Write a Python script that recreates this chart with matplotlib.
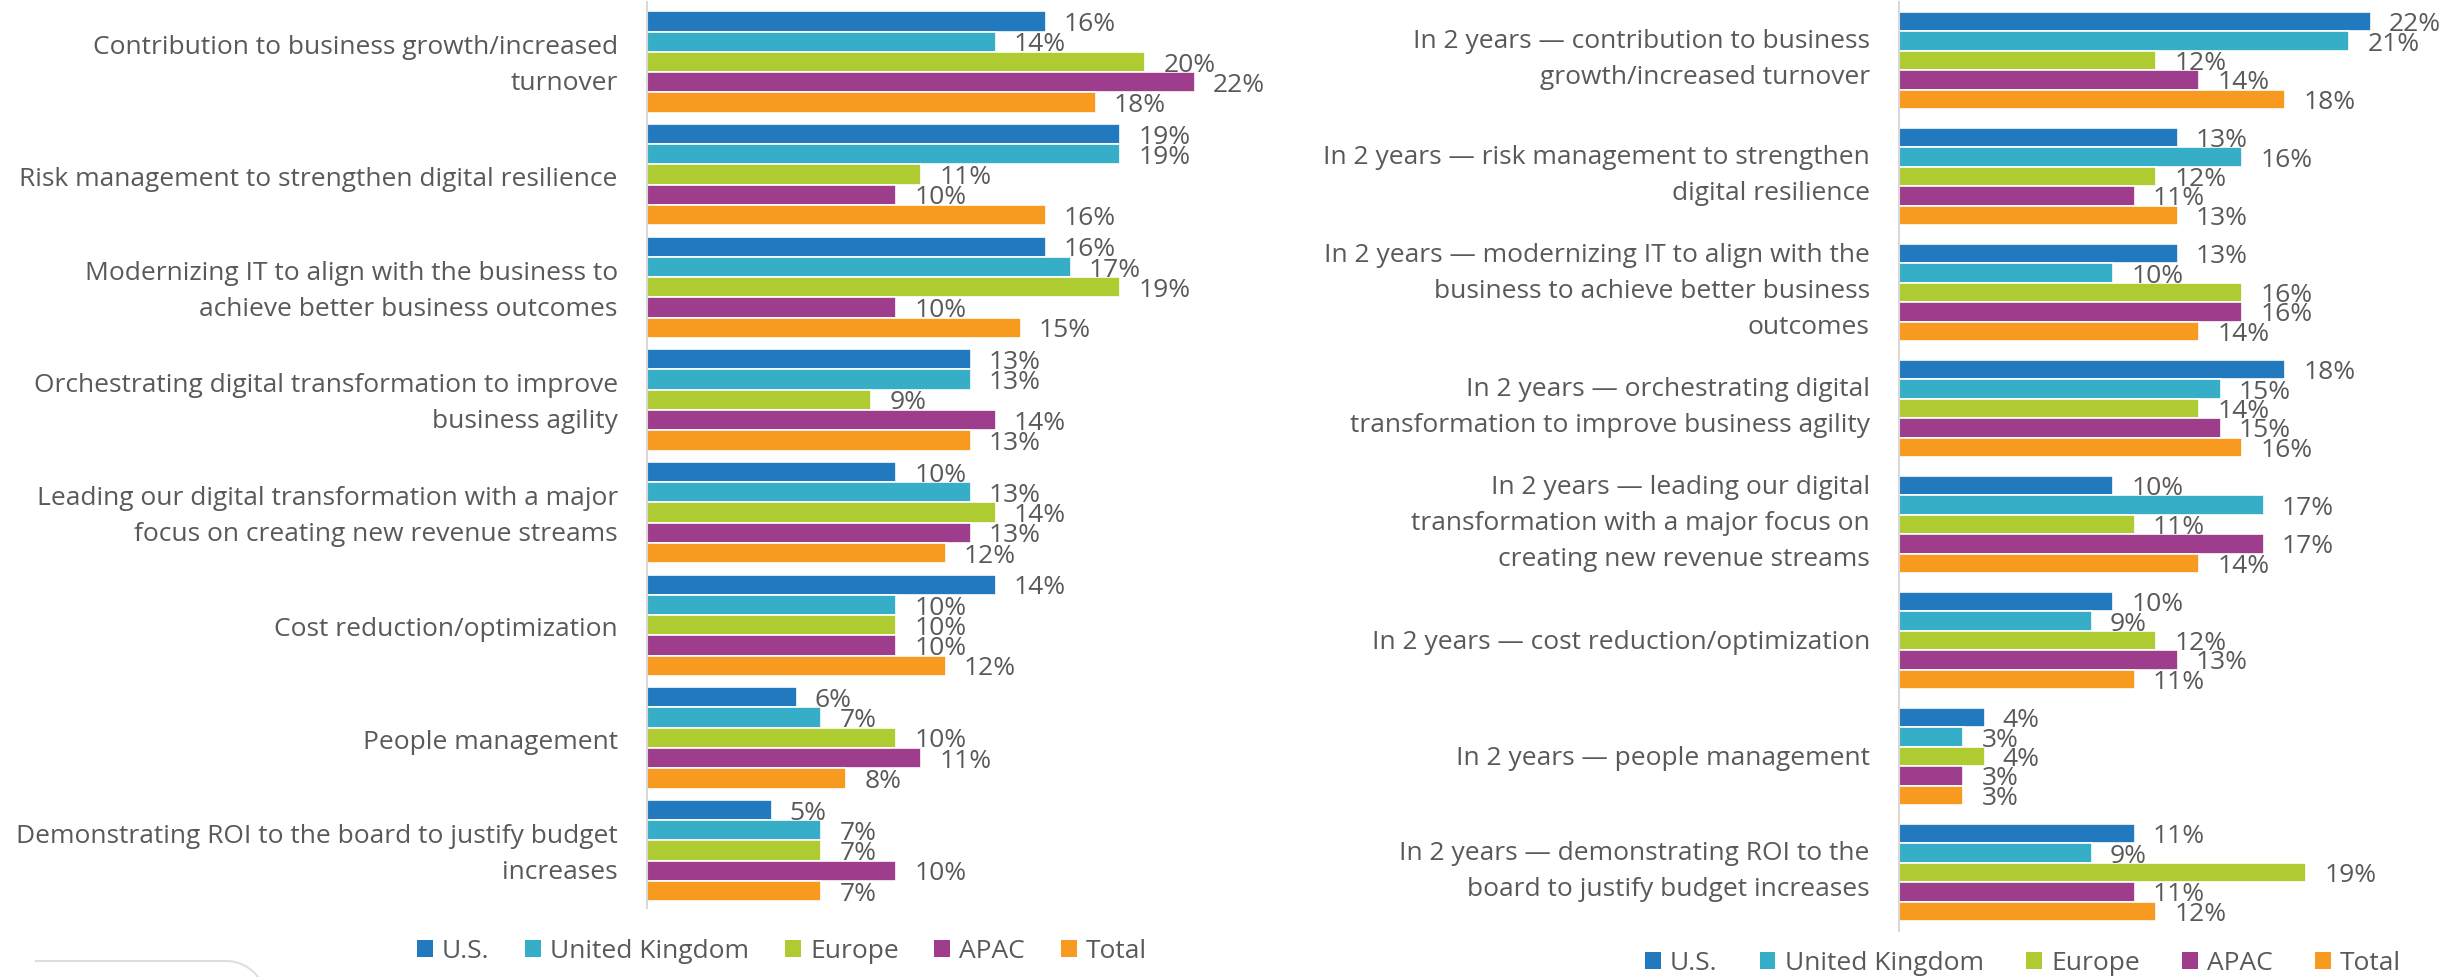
import matplotlib.pyplot as plt
import numpy as np
from matplotlib.patches import Arc
from matplotlib.lines import Line2D

plt.rcParams['font.family'] = ['Open Sans', 'DejaVu Sans']

series = ['U.S.', 'United Kingdom', 'Europe', 'APAC', 'Total']
colors = ['#2379bd', '#37aec8', '#aecb31', '#9d3d8b', '#f99a20']

now_labels = [
    'Contribution to business growth/increased\nturnover',
    'Risk management to strengthen digital resilience',
    'Modernizing IT to align with the business to\nachieve better business outcomes',
    'Orchestrating digital transformation to improve\nbusiness agility',
    'Leading our digital transformation with a major\nfocus on creating new revenue streams',
    'Cost reduction/optimization',
    'People management',
    'Demonstrating ROI to the board to justify budget\nincreases',
]
now_us = [16, 19, 16, 13, 10, 14, 6, 5]
now_uk = [14, 19, 17, 13, 13, 10, 7, 7]
now_europe = [20, 11, 19, 9, 14, 10, 10, 7]
now_apac = [22, 10, 10, 14, 13, 10, 11, 10]
now_total = [18, 16, 15, 13, 12, 12, 8, 7]

later_labels = [
    'In 2 years \u2014 contribution to business\ngrowth/increased turnover',
    'In 2 years \u2014 risk management to strengthen\ndigital resilience',
    'In 2 years \u2014 modernizing IT to align with the\nbusiness to achieve better business\noutcomes',
    'In 2 years \u2014 orchestrating digital\ntransformation to improve business agility',
    'In 2 years \u2014 leading our digital\ntransformation with a major focus on\ncreating new revenue streams',
    'In 2 years \u2014 cost reduction/optimization',
    'In 2 years \u2014 people management',
    'In 2 years \u2014 demonstrating ROI to the\nboard to justify budget increases',
]
later_us = [22, 13, 13, 18, 10, 10, 4, 11]
later_uk = [21, 16, 10, 15, 17, 9, 3, 9]
later_europe = [12, 12, 16, 14, 11, 12, 4, 19]
later_apac = [14, 11, 16, 15, 17, 13, 3, 11]
later_total = [18, 13, 14, 16, 14, 11, 3, 12]

text_color = '#595959'
fs = 19

W, H = 2455, 978
fig = plt.figure(figsize=(W / 100, H / 100), dpi=100)


def draw_panel(ax, labels, values, slot, xmax, ylim, legend_y, legend_x,
               colspace, dy_single, dy_multi):
    n = len(labels)
    idx = np.arange(n)
    for k, (vals, col) in enumerate(zip(values, colors)):
        y = idx + (k - 2) * slot
        ax.barh(y, vals, height=slot, color=col, edgecolor='white',
                linewidth=1.2, label=series[k])
        for yy, v in zip(y, vals):
            ax.annotate(f'{v}%', (v, yy), xytext=(13, -1.5),
                        textcoords='offset points', va='center', ha='left',
                        fontsize=fs, color=text_color)
    ax.set_xlim(0, xmax)
    ax.set_ylim(*ylim)

    # category labels, right aligned against the axis line
    for i, lab in zip(idx, labels):
        dy = dy_multi if '\n' in lab else dy_single
        ax.annotate(lab, (0, i), xytext=(-21, dy), textcoords='offset points',
                    ha='right', va='center', multialignment='right',
                    fontsize=fs, color=text_color, linespacing=1.58,
                    annotation_clip=False)
    ax.set_yticks([])
    ax.set_xticks([])
    for side in ['top', 'right', 'bottom']:
        ax.spines[side].set_visible(False)
    ax.spines['left'].set_color('#d9d9d9')
    ax.spines['left'].set_linewidth(1.5)
    ax.patch.set_alpha(0)
    leg = fig.legend(*ax.get_legend_handles_labels(), loc='center',
                     bbox_to_anchor=(legend_x, legend_y), ncol=5,
                     frameon=False, fontsize=fs, handlelength=0.6,
                     handleheight=0.6, handletextpad=0.35,
                     columnspacing=colspace, labelcolor=text_color)
    for h in leg.legend_handles:
        h.set_edgecolor('none')


# current priorities
ax1 = fig.add_axes([647 / W, 1 - 909 / H, 598 / W, 906 / H])
draw_panel(ax1, now_labels,
           [now_us, now_uk, now_europe, now_apac, now_total],
           0.18, 24.0, (7.51, -0.532), 1 - 952 / H, 782 / W, 1.35,
           -2.5, -2.0)

# priorities in two years
ax2 = fig.add_axes([1899 / W, 1 - 932 / H, 549 / W, 929 / H])
draw_panel(ax2, later_labels,
           [later_us, later_uk, later_europe, later_apac, later_total],
           0.167, 25.6, (7.504, -0.504), 1 - 964 / H, 2023 / W, 1.6,
           -1.0, 1.3)

# rounded frame corner at the bottom left
fig.add_artist(Line2D([36 / W, 226 / W], [1 - 962 / H, 1 - 962 / H],
                      color='#dedede', linewidth=1.5))
fig.add_artist(Arc((226 / W, 1 - 1002 / H), 80 / W, 80 / H, theta1=0,
                   theta2=90, color='#dedede', linewidth=1.5,
                   transform=fig.transFigure))

fig.savefig('out.png', dpi=100)
